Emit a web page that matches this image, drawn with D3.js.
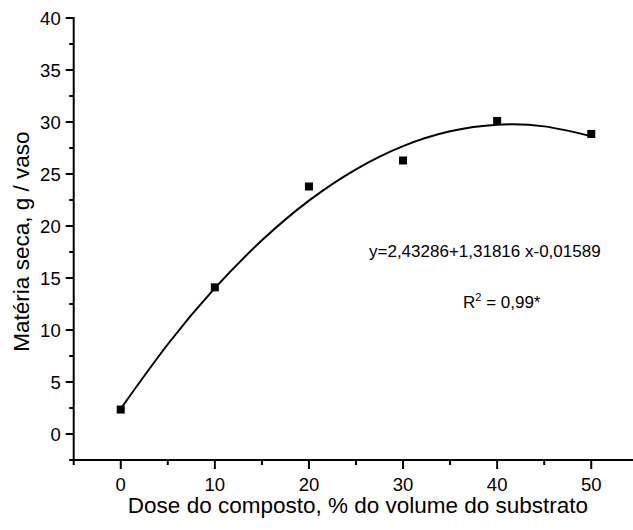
<!DOCTYPE html>
<html>
<head>
<meta charset="utf-8">
<script src="https://cdn.jsdelivr.net/npm/d3@7"></script>
<style>
  body { margin: 0; background: #fff; }
  text { fill: #000; }
</style>
</head>
<body>
<div id="chart"></div>
<script>
// observed points
const doses = [0, 10, 20, 30, 40, 50];
const drymass = [2.35, 14.1, 23.8, 26.3, 30.1, 28.85];

// fitted curve
const fitDoses = [0, 5, 10, 15, 20, 25, 30, 35, 40, 45, 50];
const fitValues = [2.43, 8.63, 14.02, 18.62, 22.44, 25.45, 27.68, 29.11, 29.74, 29.58, 28.63];

const xMajorTicks = [0, 10, 20, 30, 40, 50];
const xMinorTicks = [-5, 5, 15, 25, 35, 45, 55];
const yMajorTicks = [0, 5, 10, 15, 20, 25, 30, 35, 40];
const yMinorTicks = [-2.5, 2.5, 7.5, 12.5, 17.5, 22.5, 27.5, 32.5, 37.5];

const equationText = "y=2,43286+1,31816 x-0,01589";

const width = 633, height = 530;

const x = d3.scaleLinear().domain([-5, 55]).range([73.7, 638.3]);
const y = d3.scaleLinear().domain([-2.5, 40]).range([460, 18]);

const svg = d3.select("#chart").append("svg")
  .attr("width", width)
  .attr("height", height);

const tickFont = "'Liberation Sans Narrow', 'Liberation Sans', Arial, sans-serif";
const labelFont = "'Liberation Sans', Arial, sans-serif";

// x axis
const xAxis = svg.append("g")
  .attr("transform", "translate(0," + y(-2.5) + ")");
xAxis.append("line")
  .attr("x1", x(-5) - 4).attr("x2", width)
  .attr("stroke", "#000").attr("stroke-width", 2);
xAxis.selectAll(".xmaj").data(xMajorTicks).enter().append("line")
  .attr("x1", d => x(d)).attr("x2", d => x(d))
  .attr("y1", 0).attr("y2", 9)
  .attr("stroke", "#000").attr("stroke-width", 2);
xAxis.selectAll(".xmin").data(xMinorTicks).enter().append("line")
  .attr("x1", d => x(d)).attr("x2", d => x(d))
  .attr("y1", 0).attr("y2", 5)
  .attr("stroke", "#000").attr("stroke-width", 2);
xAxis.selectAll(".xlab").data(xMajorTicks).enter().append("text")
  .attr("x", d => x(d)).attr("y", 31)
  .attr("text-anchor", "middle")
  .style("font-family", tickFont).style("font-size", "18.5px")
  .text(d => d);

// y axis
const yAxis = svg.append("g")
  .attr("transform", "translate(" + x(-5) + ",0)");
yAxis.append("line")
  .attr("y1", y(40) - 1).attr("y2", y(-2.5) + 1)
  .attr("stroke", "#000").attr("stroke-width", 2);
yAxis.selectAll(".ymaj").data(yMajorTicks).enter().append("line")
  .attr("x1", -8).attr("x2", 0)
  .attr("y1", d => y(d)).attr("y2", d => y(d))
  .attr("stroke", "#000").attr("stroke-width", 2);
yAxis.selectAll(".ymin").data(yMinorTicks).enter().append("line")
  .attr("x1", -4.5).attr("x2", 0)
  .attr("y1", d => y(d)).attr("y2", d => y(d))
  .attr("stroke", "#000").attr("stroke-width", 2);
yAxis.selectAll(".ylab").data(yMajorTicks).enter().append("text")
  .attr("x", -13).attr("y", d => y(d) + 6.5)
  .attr("text-anchor", "end")
  .style("font-family", tickFont).style("font-size", "18.5px")
  .text(d => d);

// axis titles
svg.append("text")
  .attr("x", 358).attr("y", 513)
  .attr("text-anchor", "middle")
  .style("font-family", labelFont).style("font-size", "22.5px")
  .text("Dose do composto, % do volume do substrato");

svg.append("text")
  .attr("transform", "translate(29," + y(18.5) + ") rotate(-90)")
  .attr("text-anchor", "middle")
  .style("font-family", labelFont).style("font-size", "22.5px")
  .text("Matéria seca, g / vaso");

// fitted curve
const fitLine = d3.line()
  .x((d, i) => x(fitDoses[i]))
  .y(d => y(d))
  .curve(d3.curveNatural);
svg.append("path")
  .datum(fitValues)
  .attr("d", fitLine)
  .attr("fill", "none")
  .attr("stroke", "#000")
  .attr("stroke-width", 2);

// points
svg.selectAll(".pt").data(drymass).enter().append("rect")
  .attr("x", (d, i) => x(doses[i]) - 4)
  .attr("y", d => y(d) - 4)
  .attr("width", 8).attr("height", 8)
  .attr("fill", "#000");

// annotations
svg.append("text")
  .attr("x", 369).attr("y", 257)
  .style("font-family", labelFont).style("font-size", "17px")
  .text(equationText);

const r2 = svg.append("text")
  .attr("x", 463).attr("y", 308)
  .style("font-family", labelFont).style("font-size", "17px");
r2.append("tspan").text("R");
r2.append("tspan").attr("dy", -7).style("font-size", "11px").text("2");
r2.append("tspan").attr("dy", 7).text(" = 0,99*");
</script>
</body>
</html>
